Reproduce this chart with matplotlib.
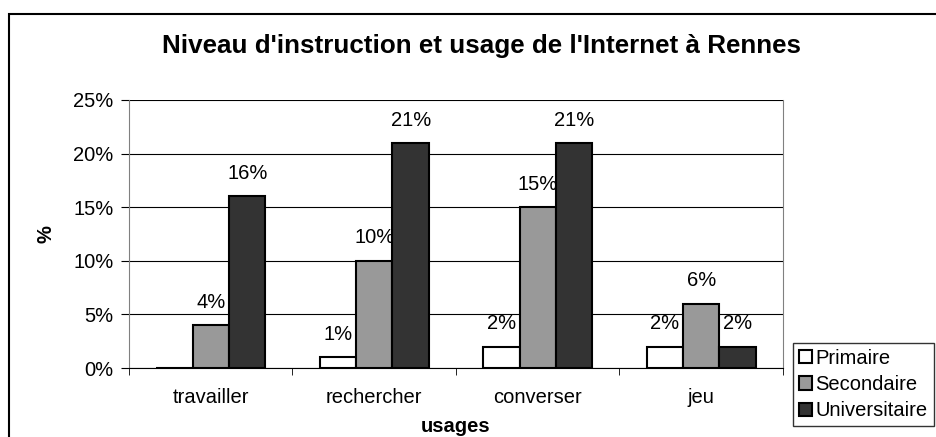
import numpy as np
import matplotlib.pyplot as plt
from matplotlib.patches import Rectangle
from matplotlib.ticker import MultipleLocator, FuncFormatter

plt.rcParams['font.family'] = ['Liberation Sans', 'DejaVu Sans']

usages = ["travailler", "rechercher", "converser", "jeu"]
series = ["Primaire", "Secondaire", "Universitaire"]
primaire = [0, 1, 2, 2]
secondaire = [4, 10, 15, 6]
universitaire = [16, 21, 21, 2]
colors = ["white", "#999999", "#333333"]

fs = 14.5

fig = plt.figure(figsize=(9.37, 4.37), dpi=100)
ax = fig.add_axes([129 / 937, 69 / 437, 654 / 937, 268 / 437])

# frame around the whole chart (cropped at right and bottom)
fig.patches.append(Rectangle((9 / 937, -0.1), 1.2, 1.1 - 14 / 437,
                             transform=fig.transFigure, fill=False,
                             edgecolor="black", linewidth=1.5))

index = np.arange(len(usages))
bar_width = 0.223
for i, (name, vals) in enumerate(zip(series, [primaire, secondaire, universitaire])):
    bars = ax.bar(index + (i - 1) * bar_width, vals, bar_width, color=colors[i],
                  edgecolor="black", linewidth=1.5, label=name, zorder=3)
    for b, v in zip(bars, vals):
        if v > 0:
            ax.annotate("%d%%" % v, (b.get_x() + b.get_width() / 2, v),
                        xytext=(0, 12.5), textcoords="offset points",
                        ha="center", va="baseline", fontsize=fs)

ax.set_xlim(-0.5, 3.5)
ax.set_ylim(0, 25)
ax.yaxis.set_major_locator(MultipleLocator(5))
ax.yaxis.set_major_formatter(FuncFormatter(lambda y, p: "%d%%" % y))
ax.grid(axis="y", color="black", linewidth=0.8, zorder=0)
ax.set_xticks(index)
ax.set_xticklabels(usages)
ax.set_xticks(np.arange(-0.5, 4, 1), minor=True)
ax.tick_params(axis="x", which="major", length=0, labelsize=fs, pad=14.5)
ax.tick_params(axis="x", which="minor", length=5, direction="out")
ax.tick_params(axis="y", length=6, labelsize=fs, pad=5)
for s in ["top", "right", "left"]:
    ax.spines[s].set_color("#808080")
ax.spines["bottom"].set_color("black")
ax.spines["top"].set_visible(False)

ax.set_xlabel("usages", fontsize=fs, fontweight="bold", labelpad=7)
ax.set_ylabel("%", fontsize=fs, fontweight="bold", labelpad=13)
fig.text(481 / 937, 1 - 46 / 437, "Niveau d'instruction et usage de l'Internet à Rennes",
         fontsize=18.7, fontweight="bold", ha="center", va="center")

leg = fig.legend(loc="upper left", bbox_to_anchor=(793 / 937, 1 - 343 / 437),
                 fontsize=fs, frameon=True, fancybox=False, borderpad=0.3,
                 handlelength=0.62, handleheight=0.62, handletextpad=0.2,
                 labelspacing=0.35, borderaxespad=0)
leg.get_frame().set_edgecolor("black")
leg.get_frame().set_linewidth(1)

fig.savefig("out.png", dpi=100)
